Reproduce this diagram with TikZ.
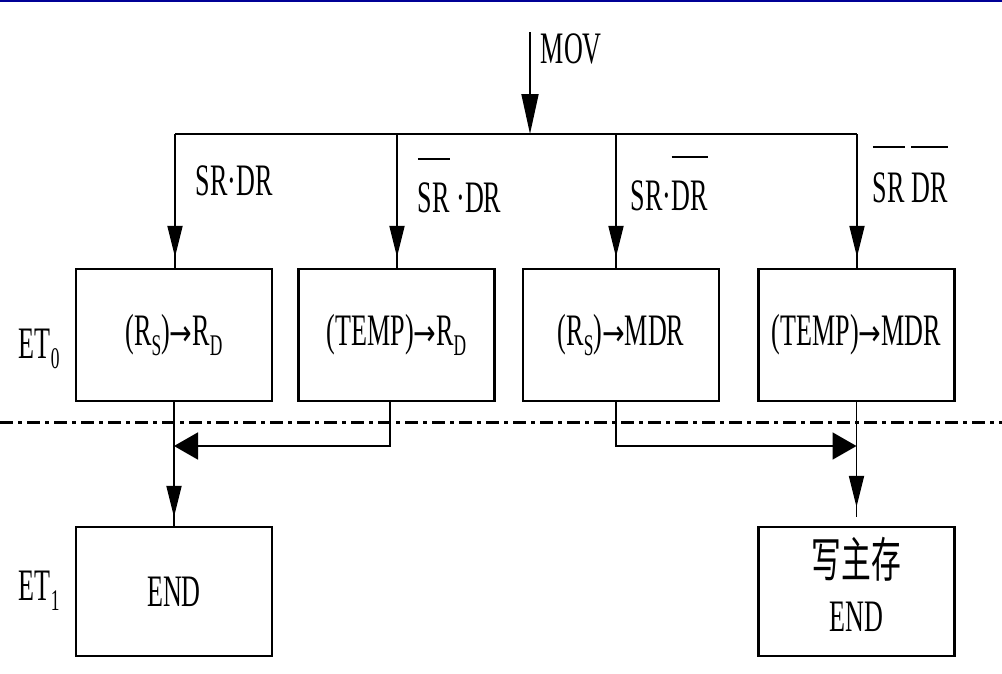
\documentclass[tikz,border=0pt]{standalone}
\usepackage{fontspec}
\setmainfont[FakeStretch=0.58]{Liberation Serif}
\newfontfamily\cjk[FakeStretch=0.62]{Noto Sans CJK SC}
\newfontfamily\arrfont[FakeStretch=0.75]{DejaVu Sans}
\usetikzlibrary{arrows.meta,decorations.markings,calc}
\definecolor{topblue}{RGB}{0,0,150}
\newsavebox\ovbox
\newcommand\myov[2]{\sbox\ovbox{#2}\rlap{\raisebox{#1}{\rule{\wd\ovbox}{2.2pt}}}\usebox\ovbox}
\newcommand\mysub[1]{\raisebox{-10pt}{\fontsize{30}{30}\selectfont #1}}
\newcommand\arr{{\arrfont\fontsize{36}{36}\selectfont →}}
\begin{document}
\begin{tikzpicture}[x=1pt,y=-1pt,
  font=\fontsize{45}{48}\selectfont,
  line width=1.8pt,
  box/.style={draw, line width=2.2pt, minimum width=196pt, minimum height=132pt, inner sep=0pt, align=center},
  lbl/.style={inner sep=0pt, anchor=base west},
  midarrow/.style={postaction={decorate}, decoration={markings, mark=at position -#1 with {\arrow{Triangle[length=31pt,width=15pt]}}}},
  sidetip/.style={-{Triangle[length=24pt,width=27pt]}}
]
\useasboundingbox (0,0) rectangle (1002,673);
\draw[topblue, line width=2pt] (0,1) -- (1002,1);

% boxes
\node[box] (box1) at (174,335) {(R\mysub{S})\arr R\mysub{D}};
\node[box] (box2) at (396.5,335) {(TEMP)\arr R\mysub{D}};
\node[box] (box3) at (621,335) {(R\mysub{S})\arr MDR};
\node[box] (box4) at (856.5,335) {(TEMP)\arr MDR};
\node[box, minimum height=129pt] (box5) at (174,591.5) {END};
\node[box, minimum height=129pt] (box6) at (856.5,591.5) {\raisebox{7pt}{\begin{tabular}{@{}c@{}}{\cjk\fontsize{48}{48}\selectfont 写主存}\\[6pt]END\end{tabular}}};

% labels
\node[lbl] (mov) at (540,63) {MOV};
\node[lbl] (et0) at (18,358) {ET\mysub{0}};
\node[lbl] (et1) at (18,600) {ET\mysub{1}};
\node[lbl] (c1) at (195,195) {SR·DR};
\node[lbl] (c2) at (417,212) {\myov{52pt}{SR} ·DR};
\node[lbl] (c3) at (630,210) {SR·\myov{52pt}{DR}};
\node[lbl] (c4) at (872,202) {\myov{54pt}{SR} \myov{54pt}{DR}};

% MOV arrow and bus
\coordinate (movtop) at (530,32);
\coordinate (busm) at (530,134);
\coordinate (b1) at (175,134);
\coordinate (b2) at (397,134);
\coordinate (b3) at (616,134);
\coordinate (b4) at (857,134);
\draw[-{Triangle[length=40pt,width=17pt]}] (movtop) -- (busm);
\draw[line width=2.6pt] (b1) -- (b4);
\draw[midarrow=11pt] (b1) -- (b1 |- box1.north);
\draw[midarrow=11pt] (b2) -- (b2 |- box2.north);
\draw[midarrow=11pt] (b3) -- (b3 |- box3.north);
\draw[midarrow=11pt] (b4) -- (b4 |- box4.north);

% dash-dot separator
\coordinate (dl) at (0,422);
\coordinate (dr) at (1002,422);
\draw[line width=3pt, dash pattern=on 13pt off 5pt on 4pt off 5pt] (dl) -- (dr);

% merge connectors
\coordinate (m2) at (390,446);
\coordinate (m3) at (616,446);
\draw[sidetip] (box2.south -| m2) -- (m2) -- (m2 -| box1.south);
\draw[sidetip] (box3.south -| m3) -- (m3) -- (m3 -| box4.south);

% down to lower boxes
\draw[midarrow=9pt] (box1.south) -- (box5.north);
\draw[midarrow=10pt] (box4.south) -- ([yshift=9pt]box6.north);
\end{tikzpicture}
\end{document}
